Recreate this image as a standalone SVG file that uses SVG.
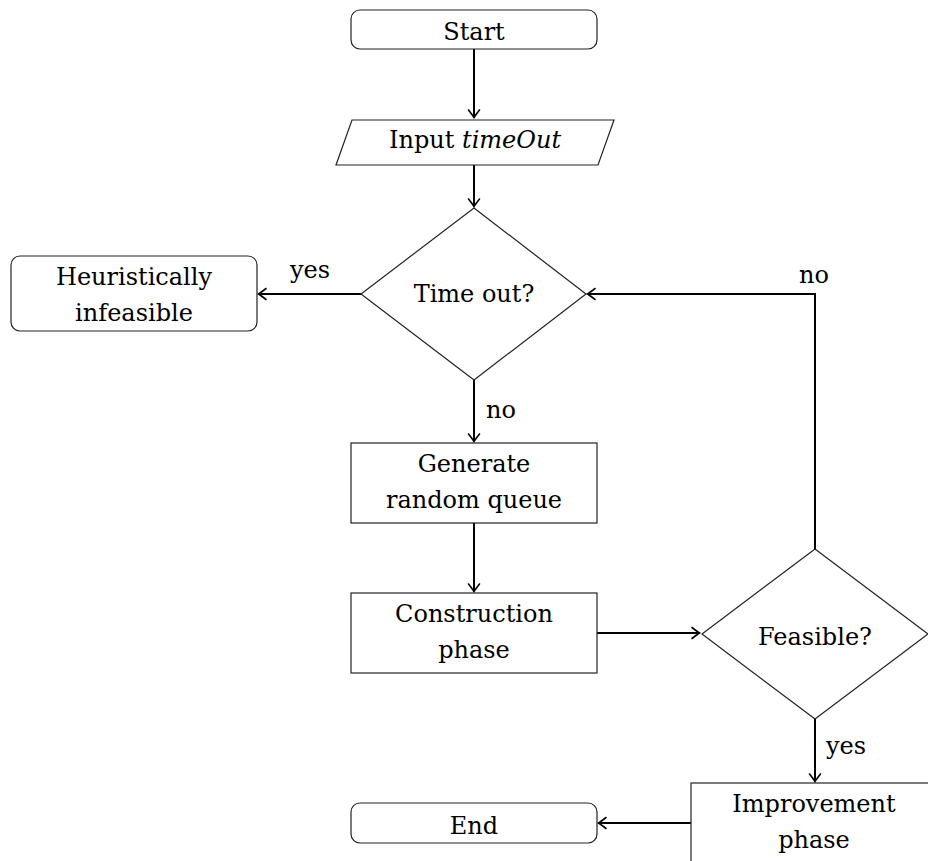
<svg xmlns="http://www.w3.org/2000/svg" width="928" height="861" viewBox="0 0 928 861">
  <defs>
    <marker id="tip" markerUnits="userSpaceOnUse" markerWidth="14" markerHeight="14" viewBox="-8 -7 10 14" refX="0" refY="0" orient="auto">
      <path d="M -7,-5.5 Q -1.5,-1.2 0.5,0 Q -1.5,1.2 -7,5.5" fill="none" stroke="#000" stroke-width="1.6" stroke-linecap="round"/>
    </marker>
    <style>
      .box { fill: #fff; stroke: #222; stroke-width: 1.2; }
      .edge { fill: none; stroke: #000; stroke-width: 2; marker-end: url(#tip); }
      .c { text-anchor: middle; }
    </style>
  </defs>

  <rect width="928" height="861" fill="#fff"/>

  <g font-family="'DejaVu Serif', 'Liberation Serif', serif" font-size="24" fill="#000">
  <!-- connectors -->
  <g id="connectors">
    <path class="edge" d="M474,49 V117"/>
    <path class="edge" d="M474,165 V206"/>
    <path class="edge" d="M361,294 H259"/>
    <path class="edge" d="M474,380 V441"/>
    <path class="edge" d="M474,523 V591"/>
    <path class="edge" d="M597,633 H699"/>
    <path class="edge" d="M815,549 V294 H588"/>
    <path class="edge" d="M815,719 V781"/>
    <path class="edge" d="M691,823 H599"/>
    <text x="310" y="278" class="c">yes</text>
    <text x="486" y="418">no</text>
    <text x="814" y="283" class="c">no</text>
    <text x="826" y="754">yes</text>
  </g>

  <g id="start">
    <rect class="box" x="351" y="10" width="246" height="39" rx="9"/>
    <text x="474" y="40" class="c">Start</text>
  </g>

  <g id="input">
    <polygon class="box" points="352,120 614,120 598,165 336,165"/>
    <text x="475" y="148" class="c">Input <tspan font-style="italic">timeOut</tspan></text>
  </g>

  <g id="timeout">
    <polygon class="box" points="474,208 586,294 474,380 361,294"/>
    <text x="474" y="302" class="c">Time out?</text>
  </g>

  <g id="infeasible">
    <rect class="box" x="11" y="256" width="246" height="75" rx="9"/>
    <text x="134" y="285" class="c">Heuristically</text>
    <text x="134" y="321" class="c">infeasible</text>
  </g>

  <g id="generate">
    <rect class="box" x="351" y="443" width="246" height="80"/>
    <text x="474" y="472" class="c">Generate</text>
    <text x="474" y="508" class="c">random queue</text>
  </g>

  <g id="construction">
    <rect class="box" x="351" y="593" width="246" height="80"/>
    <text x="474" y="622" class="c">Construction</text>
    <text x="474" y="658" class="c">phase</text>
  </g>

  <g id="feasible">
    <polygon class="box" points="815,549 928,634 815,719 702,634"/>
    <text x="815" y="645" class="c">Feasible?</text>
  </g>

  <g id="improvement">
    <rect class="box" x="691" y="783" width="246" height="80"/>
    <text x="814" y="812" class="c">Improvement</text>
    <text x="814" y="848" class="c">phase</text>
  </g>

  <g id="end">
    <rect class="box" x="351" y="803" width="246" height="40" rx="9"/>
    <text x="474" y="834" class="c">End</text>
  </g>
  </g>
</svg>
